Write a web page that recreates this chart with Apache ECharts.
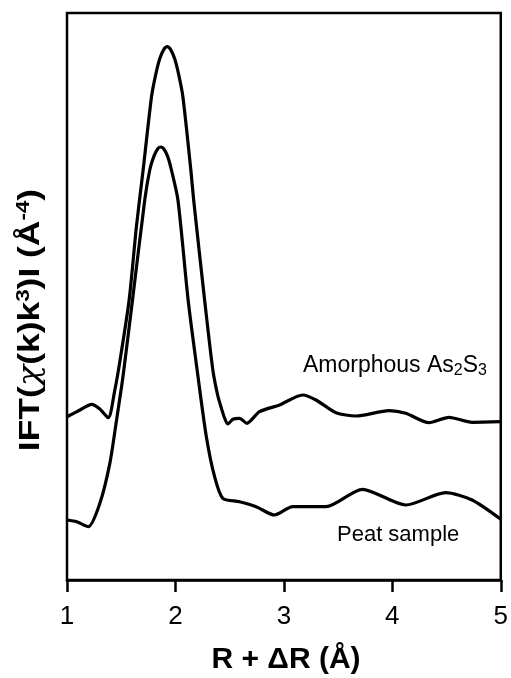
<!DOCTYPE html>
<html><head><meta charset="utf-8">
<script src="https://cdn.jsdelivr.net/npm/echarts@6/dist/echarts.min.js"></script>
<style>html,body{margin:0;padding:0;background:#fff}#c{width:511px;height:678px}</style>
</head><body><div id="c"></div>
<script>
// R + ΔR (Å)
const rAs2S3 = [1.000,1.120,1.227,1.303,1.380,1.441,1.487,1.573,1.641,1.702,1.779,1.818,1.855,1.892,1.924,1.956,1.993,2.030,2.069,2.142,2.168,2.269,2.345,2.389,2.423,2.453,2.483,2.529,2.591,2.658,2.775,2.959,3.173,3.296,3.480,3.664,3.970,4.124,4.338,4.522,4.736,5.000];
const vAs2S3 = [28.80,29.98,30.98,30.16,28.62,33.51,38.50,49.38,62.50,72.31,85.19,89.12,91.92,93.54,94.06,93.54,91.92,89.12,85.19,72.31,67.02,49.38,37.04,32.63,30.34,28.57,27.51,28.34,28.52,27.64,29.68,30.86,32.63,31.75,29.51,28.92,29.86,29.40,27.74,28.69,27.81,27.92];
const rPeat = [1.000,1.089,1.196,1.303,1.395,1.457,1.503,1.524,1.604,1.717,1.763,1.800,1.837,1.864,1.892,1.929,1.963,2.023,2.117,2.200,2.285,2.361,2.437,2.591,2.744,2.913,3.081,3.388,3.724,4.124,4.492,4.736,5.000];
const vPeat = [10.58,10.28,9.40,13.53,20.58,28.22,34.09,37.04,49.38,67.02,72.31,74.67,76.05,76.37,76.05,74.67,72.31,67.02,49.38,37.04,25.27,18.22,14.41,13.81,12.93,11.46,12.93,12.93,16.00,13.23,15.40,14.11,10.71];
const xTicks = [1,2,3,4,5];
const seriesNames = ['Amorphous As2S3','Peat sample'];

const chart = echarts.init(document.getElementById('c'), null, {renderer:'canvas'});
const FONT = '"Liberation Sans", Arial, sans-serif';
const lineStyle = {color:'#000', width:3.2};
chart.setOption({
  animation:false,
  backgroundColor:'#fff',
  grid:{left:67, right:9, top:13, bottom:98, show:true, borderColor:'#000', borderWidth:2.5},
  xAxis:{type:'value', min:xTicks[0], max:xTicks[xTicks.length-1], interval:1,
    axisLine:{show:true, lineStyle:{color:'#000', width:2.5}},
    axisTick:{show:true, inside:false, length:12, lineStyle:{color:'#000', width:2.5}},
    axisLabel:{color:'#000', fontFamily:FONT, fontSize:26, margin:24},
    splitLine:{show:false}},
  yAxis:{type:'value', min:0, max:100, axisLine:{show:false}, axisTick:{show:false}, axisLabel:{show:false}, splitLine:{show:false}},
  series:[
    {name:seriesNames[0], type:'line', data:rAs2S3.map((r,i)=>[r,vAs2S3[i]]), smooth:0.25, symbol:'none', lineStyle:lineStyle},
    {name:seriesNames[1], type:'line', data:rPeat.map((r,i)=>[r,vPeat[i]]), smooth:0.25, symbol:'none', lineStyle:lineStyle}
  ],
  graphic:[
    {type:'text', left:303, top:354, style:{text:'Amorphous As{sub|2}S{sub|3}', font:'23px '+FONT, fill:'#000',
      rich:{sub:{fontSize:16, fontFamily:FONT, verticalAlign:'bottom', padding:[10,0,0,0]}}}},
    {type:'text', left:337, top:524, style:{text:'Peat sample', font:'22px '+FONT, fill:'#000'}},
    {type:'text', x:286, y:660, style:{text:'R + ΔR (Å)', font:'bold 30px '+FONT, fill:'#000', align:'center', verticalAlign:'middle'}},
    {type:'text', x:31, y:320, rotation:Math.PI/2, scaleX:1.18, style:{
      text:'{b|IFT(}{i|χ}{b|(k)k}{sup|3}{b|)I (Å}{sup|-4}{b|)}',
      align:'center', verticalAlign:'middle', fill:'#000',
      rich:{
        b:{font:'bold 30px '+FONT, fill:'#000'},
        i:{font:'italic 30px "DejaVu Serif", serif', fill:'#000'},
        sup:{font:'bold 19px '+FONT, fill:'#000', verticalAlign:'top', padding:[0,0,14,0]}
      }}}
  ]
});
</script></body></html>
